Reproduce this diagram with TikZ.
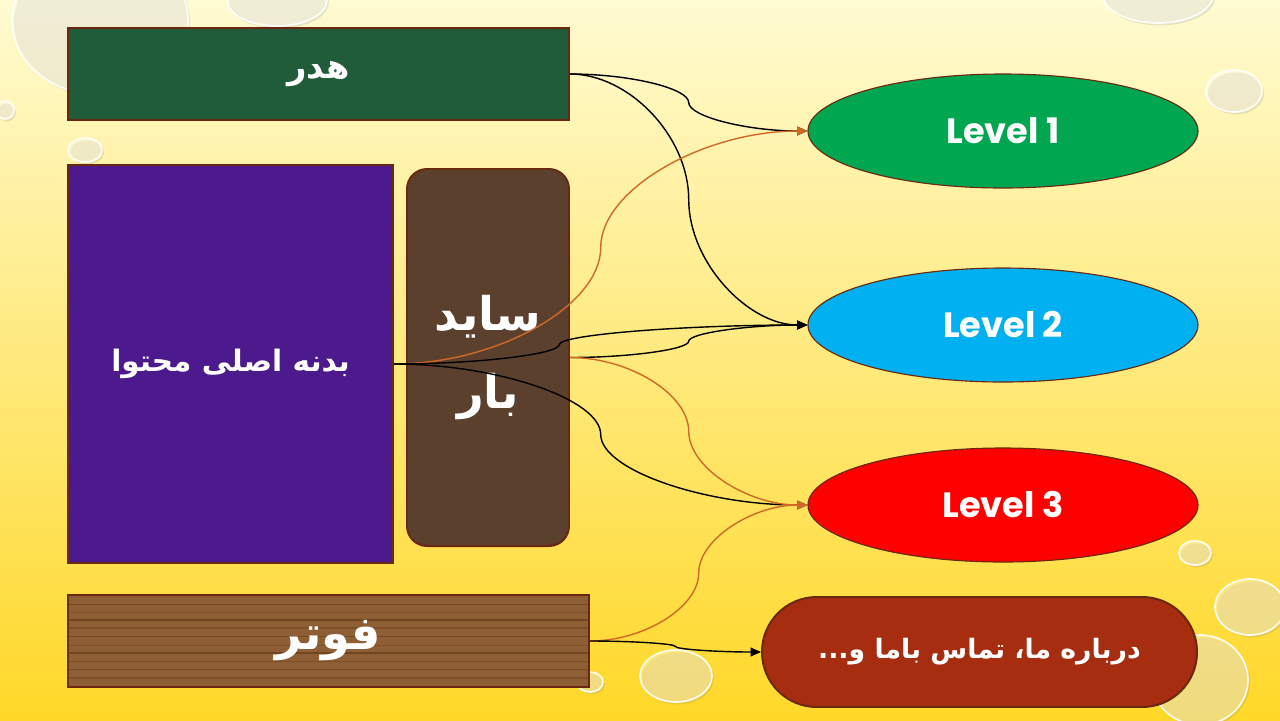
\documentclass[tikz,border=0pt]{standalone}
\usepackage{fontspec}
\setsansfont{Poppins}
\newfontfamily\arabicfont[Script=Arabic]{DejaVu Sans}
\TeXXeTstate=1
\usetikzlibrary{positioning}
\usetikzlibrary{calc,shapes.geometric,arrows.meta,shadows}

\definecolor{bgtop}{RGB}{255,251,210}
\definecolor{bgbot}{RGB}{255,216,40}
\definecolor{edgebrown}{RGB}{105,40,15}
\definecolor{hdrgreen}{RGB}{32,92,58}
\definecolor{mainpurple}{RGB}{76,26,140}
\definecolor{sidebrown}{RGB}{92,64,46}
\definecolor{footwood}{RGB}{142,94,52}
\definecolor{grain}{RGB}{95,55,25}
\definecolor{lvgreen}{RGB}{0,166,80}
\definecolor{lvblue}{RGB}{0,176,240}
\definecolor{lvred}{RGB}{255,0,0}
\definecolor{aboutred}{RGB}{166,45,15}
\definecolor{wireorange}{RGB}{208,104,40}

\tikzset{
  ppt/.style={to path={let \p1=(\tikztostart), \p2=(\tikztotarget) in
    .. controls ({\x1+#1*(\x2-\x1)/2},\y1) and ({\x1+#1*(\x2-\x1)},{(3*\y1+\y2)/4})
    .. ({\x1+#1*(\x2-\x1)},{(\y1+\y2)/2})
    .. controls ({\x1+#1*(\x2-\x1)},{(\y1+3*\y2)/4}) and ({(\x1+#1*(\x2-\x1)+\x2)/2},\y2)
    .. (\tikztotarget)}},
  ppt/.default=.5,
  drop/.style={fill=white, fill opacity=.35, draw=white, draw opacity=.9, line width=1.2pt,
    drop shadow={opacity=.18, shadow xshift=.5mm, shadow yshift=-.6mm}}
}

\begin{document}
\begin{tikzpicture}[x=0.25mm,y=-0.25mm,
   box/.style={draw=edgebrown, line width=1.4pt, inner sep=0pt, text=white,
     font=\arabicfont\bfseries\fontsize{21}{26}\selectfont},
   big/.style={font=\arabicfont\bfseries\fontsize{33}{56}\selectfont},
   lvl/.style={ellipse, draw=edgebrown, line width=.8pt, minimum width=97.5mm,
     minimum height=28.5mm, text=white, font=\sffamily\bfseries\fontsize{25}{30}\selectfont},
   wire/.style={line width=1pt, -{Triangle[length=2.6mm,width=2.2mm]}, ppt},
   orng/.style={wire, draw=wireorange}]
\useasboundingbox (0,0) rectangle (1280,720);
\clip (0,0) rectangle (1280,720);
\fill[top color=bgtop, bottom color=bgbot] (0,0) rectangle (1280,720);

\foreach \cx/\cy/\rx/\ry in {100/20/88/75, 277/0/50/26, 5/110/9/9, 85/150/17/12,
    1158/-5/55/28, 1234/91/28/21, 1195/553/16/12, 1250/607/35/28,
    1200/680/48/45, 676/676/36/26, 590/682/13/10}
  \draw[drop] (\cx,\cy) ellipse ({\rx*0.25mm} and {\ry*0.25mm});

\node[box, fill=hdrgreen, minimum width=125.25mm, minimum height=23mm,
  font=\arabicfont\bfseries\fontsize{24}{28}\selectfont] (hdr) at (318.5,74)
  {\beginR هدر\endR};
\node[box, fill=mainpurple, minimum width=81.25mm, minimum height=99.5mm] (main) at (230.5,364)
  {\beginR بدنه اصلی محتوا\endR};
\node[box, big, fill=sidebrown, rounded corners=5mm, minimum width=40.5mm, minimum height=94.25mm,
  align=center] (side) at (488,357.5) {\beginR ساید\endR\\\beginR بار\endR};
\node[box, big, fill=footwood, minimum width=130.25mm, minimum height=23mm,
  path picture={\foreach \t/\o in {.1/.5,.19/.3,.27/.6,.36/.35,.45/.5,.55/.3,.63/.6,.72/.4,.81/.5,.9/.35}
    \draw[grain, opacity=\o, line width=1pt]
      ($(path picture bounding box.north west)!\t!(path picture bounding box.south west)$)
      -- ($(path picture bounding box.north east)!\t!(path picture bounding box.south east)$);}]
  (foot) at (328.5,641) {\beginR فوتر\endR};

\node[lvl, fill=lvgreen] (lv1) at (1003,131) {Level 1};
\node[lvl, fill=lvblue] (lv2) at (1003,325) {Level 2};
\node[lvl, fill=lvred] (lv3) at (1003,505) {Level 3};
\node[box, fill=aboutred, rounded corners=13.7mm, minimum width=108.75mm, minimum height=27.5mm,
  font=\arabicfont\bfseries\fontsize{19}{24}\selectfont] (about) at (979.5,652)
  {\beginR درباره ما، تماس باما و...\endR};

\draw[wire] (hdr.east) to (lv1.west);
\draw[wire] (hdr.east) to (lv2.west);
\draw[orng] (main.east) to (lv1.west);
\draw[wire, ppt=.4] (main.east) to (lv2.west);
\draw[wire] (main.east) to (lv3.west);
\draw[wire] (side.east) to (lv2.west);
\draw[orng] (side.east) to (lv3.west);
\draw[orng] (foot.east) to (lv3.west);
\draw[wire] (foot.east) to (about.west);
\end{tikzpicture}
\end{document}
